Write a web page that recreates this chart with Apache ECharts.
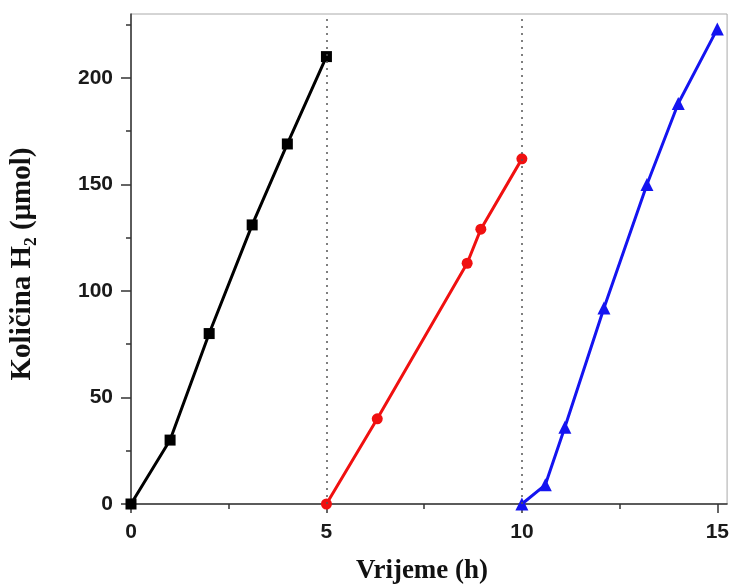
<!DOCTYPE html>
<html>
<head>
<meta charset="utf-8">
<script src="https://cdn.jsdelivr.net/npm/echarts@6/dist/echarts.min.js"></script>
<style>
  html, body { margin: 0; padding: 0; background: #fff; }
  #chart { width: 732px; height: 588px; }
</style>
</head>
<body>
<div id="chart"></div>
<script>
// ciklus 1 (crno), ciklus 2 (crveno), ciklus 3 (plavo)
const blackX = [0, 1, 2, 3.1, 4, 5];
const blackY = [0, 30, 80, 131, 169, 210];
const redX = [5, 6.3, 8.6, 8.95, 10];
const redY = [0, 40, 113, 129, 162];
const blueX = [10, 10.6, 11.1, 12.1, 13.2, 14, 15];
const blueY = [0, 9, 36, 92, 150, 188, 223];

const xTicks = [0, 5, 10, 15];
const xMinorTicks = [2.5, 7.5, 12.5];
const yTicks = [0, 50, 100, 150, 200];
const yMinorTicks = [25, 75, 125, 175, 225];
const cycleBreaks = [5, 10];

const xTitle = 'Vrijeme (h)';
const yTitle = 'Količina H₂ (μmol)';

const pairs = (xs, ys) => xs.map((x, i) => [x, ys[i]]);

const chart = echarts.init(document.getElementById('chart'));

const labelFont = {
    fontFamily: 'Liberation Sans',
    fontWeight: 'bold',
    fontSize: 21,
    color: '#1a1a1a'
};

const tickStyle = { color: '#333', width: 1.5 };
const mainAxisLine = { show: true, lineStyle: { color: '#333', width: 1.5 } };

const option = {
    animation: false,
    backgroundColor: '#fff',
    grid: {
        left: 131, right: 4, top: 14, bottom: 84,
        show: true, borderColor: '#aaa', borderWidth: 1,
        backgroundColor: 'transparent'
    },
    xAxis: [
        {
            type: 'value', min: 0, max: 15.25, position: 'bottom',
            axisLine: mainAxisLine,
            axisTick: { show: true, customValues: xTicks, length: 9, lineStyle: tickStyle },
            axisLabel: Object.assign({ customValues: xTicks, margin: 18 }, labelFont),
            splitLine: { show: false }
        },
        {
            type: 'value', min: 0, max: 15.25, position: 'bottom', offset: 0,
            axisLine: { show: false },
            axisTick: { show: true, customValues: xMinorTicks, length: 5, lineStyle: tickStyle },
            axisLabel: { show: false },
            splitLine: { show: false }
        }
    ],
    yAxis: [
        {
            type: 'value', min: 0, max: 230, position: 'left',
            axisLine: mainAxisLine,
            axisTick: { show: true, customValues: yTicks, length: 10, lineStyle: tickStyle },
            axisLabel: Object.assign({ customValues: yTicks, margin: 18 }, labelFont),
            splitLine: { show: false }
        },
        {
            type: 'value', min: 0, max: 230, position: 'left', offset: 0,
            axisLine: { show: false },
            axisTick: { show: true, customValues: yMinorTicks, length: 5, lineStyle: tickStyle },
            axisLabel: { show: false },
            splitLine: { show: false }
        }
    ],
    graphic: [
        {
            type: 'text', x: 422, y: 571,
            style: {
                text: xTitle, fill: '#111',
                font: 'bold 27px "Liberation Serif"',
                textAlign: 'center', textVerticalAlign: 'middle'
            }
        },
        {
            type: 'text', x: 23, y: 264, rotation: Math.PI / 2,
            style: {
                text: yTitle, fill: '#111',
                font: 'bold 29px "Liberation Serif"',
                textAlign: 'center', textVerticalAlign: 'middle'
            }
        }
    ],
    series: [
        {
            type: 'line', data: pairs(blackX, blackY),
            symbol: 'rect', symbolSize: 11,
            lineStyle: { color: '#000', width: 3 },
            itemStyle: { color: '#000' },
            markLine: {
                silent: true, symbol: 'none',
                label: { show: false },
                lineStyle: { color: '#555', width: 1.5, type: [2, 5] },
                data: cycleBreaks.map(v => ({ xAxis: v }))
            }
        },
        {
            type: 'line', data: pairs(redX, redY),
            symbol: 'circle', symbolSize: 11,
            lineStyle: { color: '#f01010', width: 3 },
            itemStyle: { color: '#f01010' }
        },
        {
            type: 'line', data: pairs(blueX, blueY),
            symbol: 'triangle', symbolSize: 13,
            lineStyle: { color: '#1414f0', width: 3 },
            itemStyle: { color: '#1414f0' }
        }
    ]
};

chart.setOption(option);
</script>
</body>
</html>
